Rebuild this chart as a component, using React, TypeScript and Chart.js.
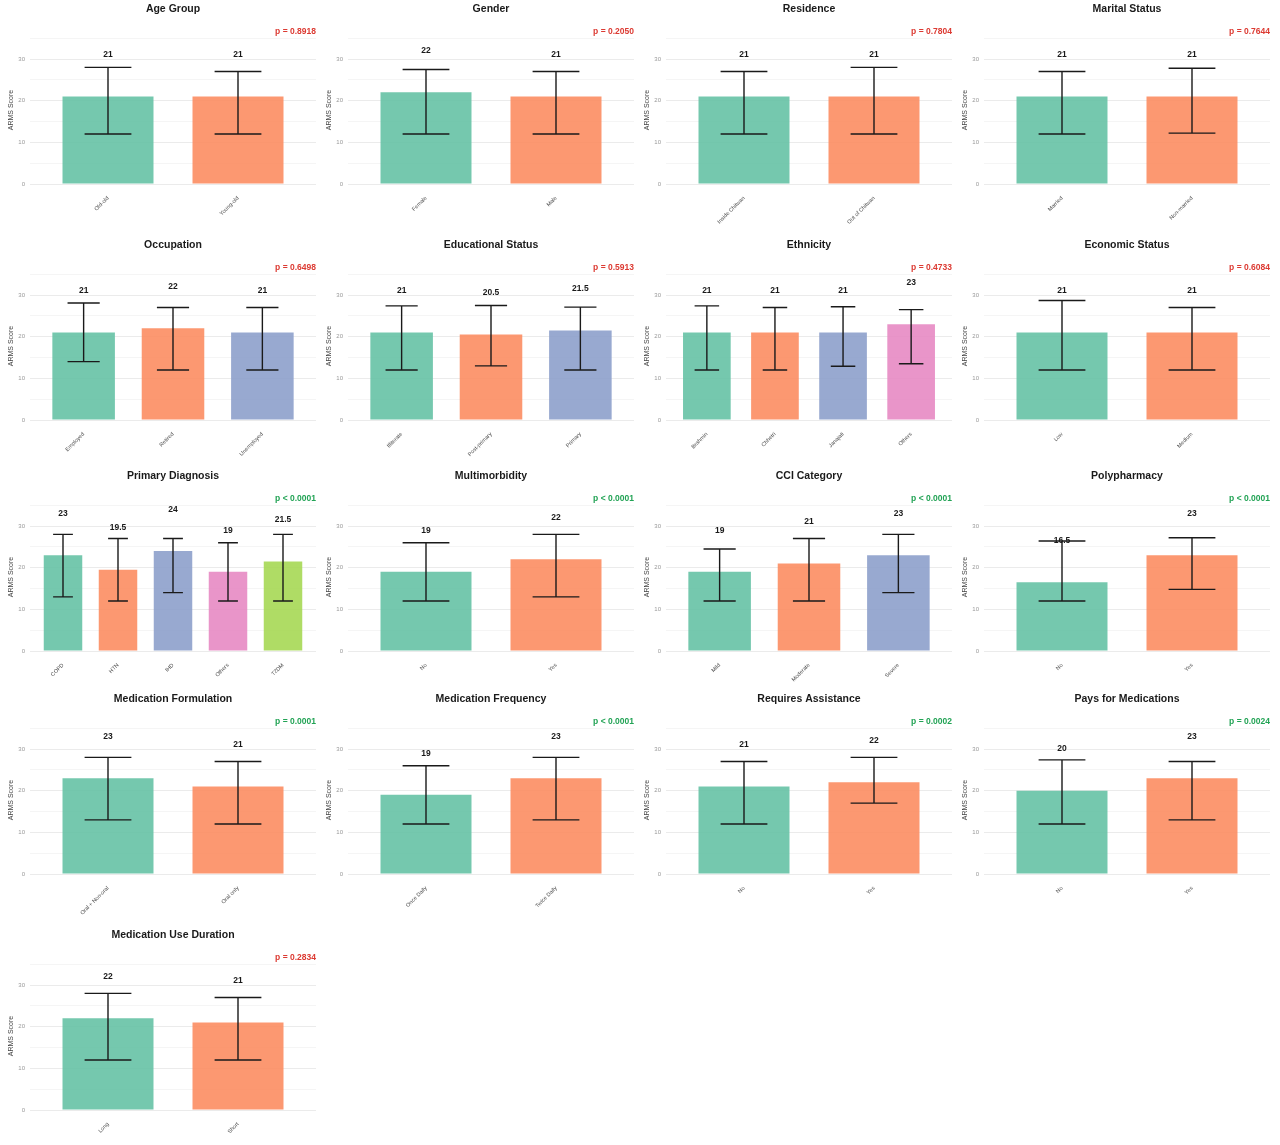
import React, { useEffect, useRef } from "react";
import { Chart, registerables } from "chart.js";

Chart.register(...registerables);
Chart.defaults.font.family = '"Liberation Sans", Arial, Helvetica, sans-serif';

// ---------- data (median ARMS score with lower / upper error-bar ends) ----------
const ageGroupCats = ["Old-old", "Young-old"];
const ageGroupMedian = [21, 21];
const ageGroupLower = [12, 12];
const ageGroupUpper = [28, 27];

const genderCats = ["Female", "Male"];
const genderMedian = [22, 21];
const genderLower = [12, 12];
const genderUpper = [27.5, 27];

const residenceCats = ["Inside Chitwan", "Out of Chitwan"];
const residenceMedian = [21, 21];
const residenceLower = [12, 12];
const residenceUpper = [27, 28];

const maritalCats = ["Married", "Non-married"];
const maritalMedian = [21, 21];
const maritalLower = [12, 12.2];
const maritalUpper = [27, 27.8];

const occupationCats = ["Employed", "Retired", "Unemployed"];
const occupationMedian = [21, 22, 21];
const occupationLower = [14, 12, 12];
const occupationUpper = [28.1, 27, 27];

const educationCats = ["Illiterate", "Post-primary", "Primary"];
const educationMedian = [21, 20.5, 21.5];
const educationLower = [12, 13, 12];
const educationUpper = [27.4, 27.5, 27.1];

const ethnicityCats = ["Brahmin", "Chhetri", "Janajati", "Others"];
const ethnicityMedian = [21, 21, 21, 23];
const ethnicityLower = [12, 12, 12.9, 13.5];
const ethnicityUpper = [27.4, 27, 27.2, 26.5];

const economicCats = ["Low", "Medium"];
const economicMedian = [21, 21];
const economicLower = [12, 12];
const economicUpper = [28.7, 27];

const diagnosisCats = ["COPD", "HTN", "IHD", "Others", "T2DM"];
const diagnosisMedian = [23, 19.5, 24, 19, 21.5];
const diagnosisLower = [13, 12, 14, 12, 12];
const diagnosisUpper = [28, 27, 27, 26, 28];

const multimorbidityCats = ["No", "Yes"];
const multimorbidityMedian = [19, 22];
const multimorbidityLower = [12, 13];
const multimorbidityUpper = [26, 28];

const cciCats = ["Mild", "Moderate", "Severe"];
const cciMedian = [19, 21, 23];
const cciLower = [12, 12, 14];
const cciUpper = [24.5, 27, 28];

const polypharmacyCats = ["No", "Yes"];
const polypharmacyMedian = [16.5, 23];
const polypharmacyLower = [12, 14.8];
const polypharmacyUpper = [26.4, 27.2];

const formulationCats = ["Oral + Non-oral", "Oral only"];
const formulationMedian = [23, 21];
const formulationLower = [13, 12];
const formulationUpper = [28, 27];

const frequencyCats = ["Once Daily", "Twice Daily"];
const frequencyMedian = [19, 23];
const frequencyLower = [12, 13];
const frequencyUpper = [26, 28];

const assistanceCats = ["No", "Yes"];
const assistanceMedian = [21, 22];
const assistanceLower = [12, 17];
const assistanceUpper = [27, 28];

const paysCats = ["No", "Yes"];
const paysMedian = [20, 23];
const paysLower = [12, 13];
const paysUpper = [27.4, 27];

const durationCats = ["Long", "Short"];
const durationMedian = [22, 21];
const durationLower = [12, 12];
const durationUpper = [28, 27];

const panelTitles = [
  "Age Group", "Gender", "Residence", "Marital Status",
  "Occupation", "Educational Status", "Ethnicity", "Economic Status",
  "Primary Diagnosis", "Multimorbidity", "CCI Category", "Polypharmacy",
  "Medication Formulation", "Medication Frequency", "Requires Assistance", "Pays for Medications",
  "Medication Use Duration",
];
const pValueLabels = [
  "p = 0.8918", "p = 0.2050", "p = 0.7804", "p = 0.7644",
  "p = 0.6498", "p = 0.5913", "p = 0.4733", "p = 0.6084",
  "p < 0.0001", "p < 0.0001", "p < 0.0001", "p < 0.0001",
  "p = 0.0001", "p < 0.0001", "p = 0.0002", "p = 0.0024",
  "p = 0.2834",
];
const pSignificant = [
  false, false, false, false,
  false, false, false, false,
  true, true, true, true,
  true, true, true, true,
  false,
];
const yTickValues = [0, 5, 10, 15, 20, 25, 30, 35];

// ---------- styling ----------
const SET2 = [
  "rgba(102,194,165,0.9)",
  "rgba(252,141,98,0.9)",
  "rgba(141,160,203,0.9)",
  "rgba(231,138,195,0.9)",
  "rgba(166,216,84,0.9)",
];
const RED = "#DC3A32";
const GREEN = "#22A355";

const COL_X = [0, 318, 636, 954];
const ROW_Y = [0, 236, 467, 690, 926];
const ROW_H = [229, 229, 223, 229, 219];
const PANEL_W = 318;
const ZERO_Y = 184;

type Panel = {
  title: string;
  p: string;
  sig: boolean;
  cats: string[];
  median: number[];
  lower: number[];
  upper: number[];
};

const catsList = [
  ageGroupCats, genderCats, residenceCats, maritalCats,
  occupationCats, educationCats, ethnicityCats, economicCats,
  diagnosisCats, multimorbidityCats, cciCats, polypharmacyCats,
  formulationCats, frequencyCats, assistanceCats, paysCats, durationCats,
];
const medianList = [
  ageGroupMedian, genderMedian, residenceMedian, maritalMedian,
  occupationMedian, educationMedian, ethnicityMedian, economicMedian,
  diagnosisMedian, multimorbidityMedian, cciMedian, polypharmacyMedian,
  formulationMedian, frequencyMedian, assistanceMedian, paysMedian, durationMedian,
];
const lowerList = [
  ageGroupLower, genderLower, residenceLower, maritalLower,
  occupationLower, educationLower, ethnicityLower, economicLower,
  diagnosisLower, multimorbidityLower, cciLower, polypharmacyLower,
  formulationLower, frequencyLower, assistanceLower, paysLower, durationLower,
];
const upperList = [
  ageGroupUpper, genderUpper, residenceUpper, maritalUpper,
  occupationUpper, educationUpper, ethnicityUpper, economicUpper,
  diagnosisUpper, multimorbidityUpper, cciUpper, polypharmacyUpper,
  formulationUpper, frequencyUpper, assistanceUpper, paysUpper, durationUpper,
];

const panels: Panel[] = panelTitles.map((title, i) => ({
  title,
  p: pValueLabels[i],
  sig: pSignificant[i],
  cats: catsList[i],
  median: medianList[i],
  lower: lowerList[i],
  upper: upperList[i],
}));

function makeDecorPlugin(panel: Panel) {
  return {
    id: "errorBarsAndLabels",
    afterDatasetsDraw(chart: any) {
      const { ctx, scales } = chart;
      const x = scales.x;
      const y = scales.y;
      const unit = x.getPixelForValue(1) - x.getPixelForValue(0);
      const half = (unit * 0.36) / 2;
      ctx.save();
      ctx.strokeStyle = "#1a1a1a";
      ctx.lineWidth = 1.4;
      panel.median.forEach((m, i) => {
        const cx = x.getPixelForValue(i);
        const yl = y.getPixelForValue(panel.lower[i]);
        const yh = y.getPixelForValue(panel.upper[i]);
        ctx.beginPath();
        ctx.moveTo(cx, yl);
        ctx.lineTo(cx, yh);
        ctx.moveTo(cx - half, yl);
        ctx.lineTo(cx + half, yl);
        ctx.moveTo(cx - half, yh);
        ctx.lineTo(cx + half, yh);
        ctx.stroke();
      });
      ctx.fillStyle = "#1a1a1a";
      ctx.font = 'bold 8.5px "Liberation Sans", Arial, sans-serif';
      ctx.textAlign = "center";
      ctx.textBaseline = "middle";
      panel.median.forEach((m, i) => {
        ctx.fillText(String(m), x.getPixelForValue(i), y.getPixelForValue(m + 10));
      });
      ctx.restore();
    },
  };
}

function PanelChart({ panel, left, top, height }: { panel: Panel; left: number; top: number; height: number }) {
  const ref = useRef<HTMLCanvasElement>(null);
  useEffect(() => {
    if (!ref.current) return;
    const n = panel.cats.length;
    const chart = new Chart(ref.current, {
      type: "bar",
      data: {
        datasets: [
          {
            data: panel.median.map((v, i) => ({ x: i, y: v })),
            backgroundColor: panel.cats.map((_, i) => SET2[i % SET2.length]),
            borderWidth: 0,
            categoryPercentage: 1,
            barPercentage: 0.7,
          } as any,
        ],
      },
      options: {
        animation: false,
        responsive: true,
        maintainAspectRatio: false,
        layout: { padding: { left: 0, right: 2, top: 0, bottom: 0 } },
        plugins: {
          legend: { display: false },
          tooltip: { enabled: false },
          title: {
            display: true,
            text: panel.title,
            fullSize: false,
            color: "#1a1a1a",
            font: { size: 10.5, weight: "bold", lineHeight: 1.2 },
            padding: { top: 3, bottom: 12 },
          },
          subtitle: {
            display: true,
            text: panel.p,
            fullSize: false,
            align: "end",
            color: panel.sig ? GREEN : RED,
            font: { size: 8.5, weight: "bold", lineHeight: 1 },
            padding: { top: 0, bottom: 0 },
          },
        },
        scales: {
          x: {
            type: "linear",
            offset: false,
            min: -0.6,
            max: n - 1 + 0.6,
            grid: { display: false },
            border: { display: false },
            afterBuildTicks: (s: any) => {
              s.ticks = panel.cats.map((_, i) => ({ value: i }));
            },
            afterFit: (s: any) => {
              s.height = height - ZERO_Y;
            },
            ticks: {
              autoSkip: false,
              minRotation: 45,
              maxRotation: 45,
              padding: 3,
              color: "#4d4d4d",
              font: { size: 5.5 },
              callback: (_v: any, i: number) => panel.cats[i],
            },
          },
          y: {
            min: 0,
            max: 35.5,
            border: { display: false },
            grid: {
              drawTicks: false,
              color: (c: any) => (c.tick && c.tick.value % 10 === 0 ? "#EBEBEB" : "#F5F5F5"),
              lineWidth: 1,
            },
            afterBuildTicks: (s: any) => {
              s.ticks = yTickValues.map((v) => ({ value: v }));
            },
            afterFit: (s: any) => {
              s.width = 30;
            },
            ticks: {
              padding: 5,
              color: "#999999",
              font: { size: 6 },
              callback: (v: any) => (Number(v) % 10 === 0 ? String(v) : ""),
            },
            title: {
              display: true,
              text: "ARMS Score",
              color: "#444444",
              font: { size: 7 },
              padding: { top: 7, bottom: 0 },
            },
          },
        },
      } as any,
      plugins: [makeDecorPlugin(panel)],
    });
    return () => chart.destroy();
  }, [panel, height]);
  return (
    <div style={{ position: "absolute", left, top, width: PANEL_W, height }}>
      <canvas ref={ref} />
    </div>
  );
}

export default function App() {
  return (
    <div
      style={{
        position: "fixed",
        left: 0,
        top: 0,
        width: 1280,
        height: 1145,
        overflow: "hidden",
        background: "#ffffff",
      }}
    >
      {panels.map((panel, i) => {
        const row = Math.floor(i / 4);
        const col = i % 4;
        return (
          <PanelChart
            key={panel.title}
            panel={panel}
            left={COL_X[col]}
            top={ROW_Y[row]}
            height={ROW_H[row]}
          />
        );
      })}
    </div>
  );
}
